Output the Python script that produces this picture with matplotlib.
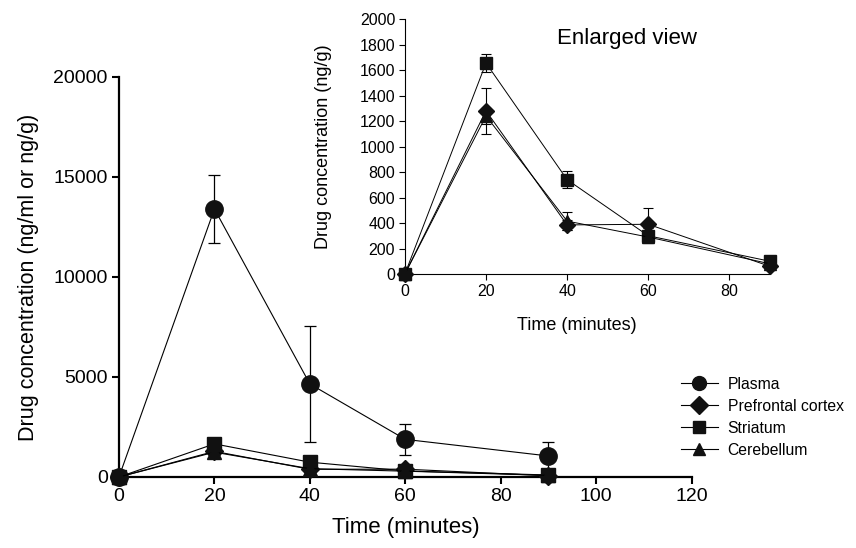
import numpy as np
import matplotlib.pyplot as plt

plt.rcParams['font.family'] = ['Liberation Sans', 'DejaVu Sans']

# time points (minutes)
time = [0, 20, 40, 60, 90]

# mean concentrations
plasma = [0, 13400, 4650, 1880, 1050]
prefrontal = [0, 1280, 385, 390, 60]
striatum = [0, 1655, 740, 300, 100]
cerebellum = [0, 1240, 415, 290, 80]

# error bars (sd)
plasma_err = [0, 1720, 2880, 790, 710]
prefrontal_err = [0, 180, 40, 130, 10]
striatum_err = [0, 70, 68, 60, 10]
cerebellum_err = [0, 60, 70, 40, 10]

labels = ['Plasma', 'Prefrontal cortex', 'Striatum', 'Cerebellum']
markers = ['o', 'D', 's', '^']

fig = plt.figure(figsize=(8.56, 5.48), dpi=100)

## main plot
ax = fig.add_axes([0.139, 0.1296, 0.669, 0.730])
main_sizes = [12.5, 9.5, 10, 10.5]
series = [plasma, prefrontal, striatum, cerebellum]
errs = [plasma_err, prefrontal_err, striatum_err, cerebellum_err]
for s, e, m, ms, lab in zip(series, errs, markers, main_sizes, labels):
    ax.errorbar(time, s, yerr=e, fmt='none', ecolor='black', elinewidth=0.9,
                capsize=4, capthick=0.9, clip_on=False, zorder=2)
    ax.plot(time, s, color='black', lw=0.8, marker=m, ms=ms,
            mfc='#111111', mec='#111111', clip_on=False, zorder=3, label=lab)

ax.set_xlim(0, 120)
ax.set_ylim(0, 20000)
ax.set_xticks([0, 20, 40, 60, 80, 100, 120])
ax.set_yticks([0, 5000, 10000, 15000, 20000])
ax.spines['top'].set_visible(False)
ax.spines['right'].set_visible(False)
ax.spines['left'].set_linewidth(1.6)
ax.spines['bottom'].set_linewidth(1.6)
ax.tick_params(direction='out', length=5, width=1.5, labelsize=14, pad=3)
ax.set_xlabel('Time (minutes)', fontsize=16)
ax.xaxis.set_label_coords(0.5, -0.1)
ax.set_ylabel('Drug concentration (ng/ml or ng/g)', fontsize=15.5)
ax.yaxis.set_label_coords(-0.14, 0.5)

# legend with smaller markers
leg_handles = []
for m, lab in zip(markers, labels):
    h, = ax.plot([], [], color='black', lw=0.8, marker=m, ms=10 if m == 'o' else 9,
                 mfc='#111111', mec='#111111', label=lab)
    leg_handles.append(h)
ax.legend(handles=leg_handles, loc='upper left', bbox_to_anchor=(0.786, 0.327),
          bbox_transform=fig.transFigure, frameon=False, fontsize=11.3,
          handlelength=2.4, handletextpad=0.6, labelspacing=0.45, borderpad=0)

## inset: enlarged view
axin = fig.add_axes([0.473, 0.5, 0.4264, 0.4653])
inset_sizes = [8, 8, 8]
for s, e, m, ms in zip(series[1:], errs[1:], markers[1:], inset_sizes):
    axin.errorbar(time, s, yerr=e, fmt='none', ecolor='black', elinewidth=0.8,
                  capsize=3.5, capthick=0.8, clip_on=False, zorder=2)
    axin.plot(time, s, color='black', lw=0.7, marker=m, ms=ms,
              mfc='#111111', mec='#111111', clip_on=False, zorder=3)

axin.set_xlim(0, 90)
axin.set_ylim(0, 2000)
axin.set_xticks([0, 20, 40, 60, 80])
axin.set_yticks(np.arange(0, 2001, 200))
axin.spines['top'].set_visible(False)
axin.spines['right'].set_visible(False)
axin.spines['left'].set_linewidth(0.8)
axin.spines['bottom'].set_linewidth(0.8)
axin.tick_params(direction='out', length=4, width=0.8, labelsize=11.5, pad=3)
axin.set_xlabel('Time (minutes)', fontsize=13)
axin.xaxis.set_label_coords(0.47, -0.17)
axin.set_ylabel('Drug concentration (ng/g)', fontsize=13)
axin.yaxis.set_label_coords(-0.2, 0.5)
axin.text(37.5, 1850, 'Enlarged view', fontsize=16, va='center', ha='left')

fig.savefig('out.png', dpi=100)
